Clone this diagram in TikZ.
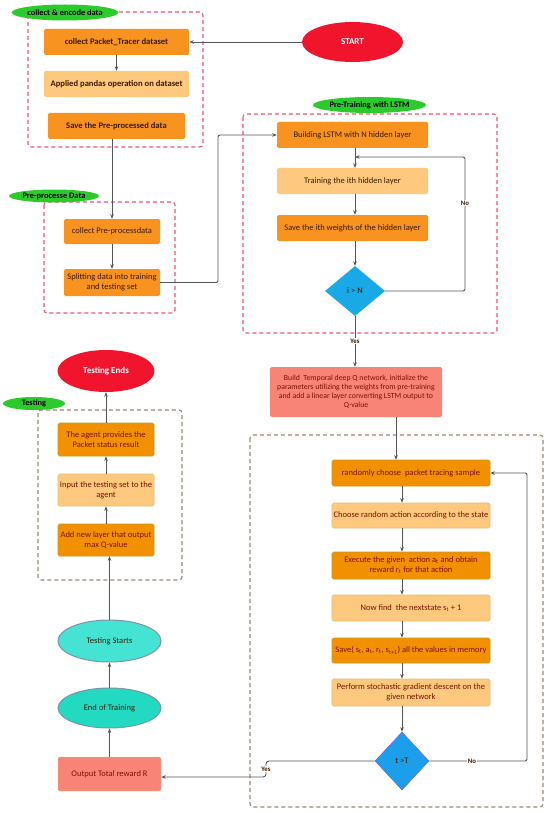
\documentclass[tikz,border=0pt]{standalone}
\usepackage{fontspec}
\setmainfont{Carlito}
\usetikzlibrary{shapes.geometric,arrows.meta}
\definecolor{orng}{HTML}{F7931E}
\definecolor{orng2}{HTML}{F39000}
\definecolor{olive2}{HTML}{B8A020}
\definecolor{lorng}{HTML}{FEC97E}
\definecolor{lborder}{HTML}{E0C070}
\definecolor{grn}{HTML}{2BCB2B}
\definecolor{redE}{HTML}{F0142D}
\definecolor{dred}{HTML}{EE5577}
\definecolor{dgrey}{HTML}{9A8A7A}
\definecolor{salm}{HTML}{F88478}
\definecolor{teal1}{HTML}{22D9C2}
\definecolor{teal2}{HTML}{45E3D3}
\definecolor{slate}{HTML}{7E93A8}
\definecolor{blue1}{HTML}{18A9E6}
\definecolor{blue2}{HTML}{1B9FEA}
\definecolor{purp}{HTML}{7A66E0}
\definecolor{lnc}{HTML}{555555}
\definecolor{txt}{HTML}{3A1A00}
\definecolor{txtr}{HTML}{7A1200}
\tikzset{
  base/.style={rectangle, rounded corners=1.5pt, align=center, inner sep=1pt,
    font=\fontsize{8.5}{10}\selectfont, text=txt},
  bfont/.style={font=\bfseries\fontsize{8.6}{10}\selectfont},
  obox/.style={base, fill=orng},
  lbox/.style={base, fill=lorng},
  obox2/.style={base, fill=orng2, draw=olive2, line width=0.6pt, text=txtr},
  lbox2/.style={base, fill=lorng, draw=lborder, line width=0.6pt, text=txtr},
  glabel/.style={ellipse, fill=grn, inner sep=0pt, font=\bfseries\fontsize{8.4}{10}\selectfont},
  rellip/.style={ellipse, fill=redE, text=white, inner sep=0pt, font=\bfseries\fontsize{9}{11}\selectfont},
  dbox/.style={draw=dred, line width=1.1pt, dash pattern=on 4pt off 3pt, rounded corners=3pt},
  gbox/.style={draw=dgrey, line width=1.1pt, dash pattern=on 4pt off 3pt, rounded corners=3pt},
  conn/.style={draw=lnc, line width=0.9pt},
  arr/.style={conn, -{Stealth[length=4.5pt,width=3.5pt]}},
  lab/.style={fill=white, inner sep=0.5pt, font=\bfseries\fontsize{6.8}{8}\selectfont, text=txt},
}
\begin{document}
\begin{tikzpicture}[x=1pt,y=-1pt]
\useasboundingbox (0,0) rectangle (550,813);
\fill[white] (0,0) rectangle (550,813);

% dashed groups
\draw[dbox] (28,12) rectangle (203,147);
\draw[dbox] (44,202) rectangle (175,313);
\draw[dbox] (243,114) rectangle (497,333);
\draw[gbox] (250,435) rectangle (543,807);
\draw[gbox] (38,410) rectangle (182,580);

% group labels
\node[glabel, minimum width=96pt, minimum height=16pt] (lab1) at (65,12.5) {collect \& encode data};
\node[glabel, minimum width=90pt, minimum height=13pt] (lab2) at (54,196) {Pre-processe Data};
\node[glabel, minimum width=103pt, minimum height=16pt] (lab3) at (369.5,105) {Pre-Training with LSTM};
\node[glabel, minimum width=62pt, minimum height=13pt] (lab4) at (34,403.5) {Testing};

% collect & encode
\node[obox, bfont, minimum width=145pt, minimum height=26pt] (cpt) at (116.5,42) {collect Packet\_Tracer dataset};
\node[lbox, bfont, minimum width=145pt, minimum height=26pt] (apd) at (116.5,84) {Applied pandas operation on dataset};
\node[obox, bfont, minimum width=137pt, minimum height=26pt] (spp) at (116.5,126) {Save the Pre-processed data};
\node[rellip, minimum width=101pt, minimum height=40pt] (start) at (352.5,42) {START};

% pre-process
\node[obox, minimum width=96pt, minimum height=25pt] (cpd) at (112,231.5) {collect Pre-processdata};
\node[obox, minimum width=96pt, minimum height=27pt] (spl) at (112,282.5) {Splitting data into training\\and testing set};

% pre-training
\node[obox, minimum width=151pt, minimum height=26pt] (bld) at (352.5,135) {Building LSTM with N hidden layer};
\node[lbox, minimum width=151pt, minimum height=26pt] (trn) at (352.5,181) {Training the ith hidden layer};
\node[obox, minimum width=151pt, minimum height=26pt] (sav) at (352.5,228) {Save the ith weights of the hidden layer};
\node[diamond, fill=blue1, minimum width=60pt, minimum height=50pt, inner sep=0pt, font=\fontsize{8.5}{10}\selectfont, text=txt] (d1) at (355,291) {i > N};
\coordinate (n1a) at (465,291);
\coordinate (n1b) at (465,157);
\coordinate (n1c) at (355,157);

% build temporal
\node[base, fill=salm, minimum width=172pt, minimum height=50pt, font=\fontsize{7.8}{8.9}\selectfont, text=txtr] (bt) at (356,392)
 {Build\ \ Temporal deep Q network, initialize the\\parameters utilizing the weights from pre-training\\and add a linear layer converting LSTM output to\\Q-value};

% training loop
\node[obox2, minimum width=158pt, minimum height=26pt] (r1) at (411,473) {randomly choose\ \ packet tracing sample};
\node[lbox2, minimum width=158pt, minimum height=25pt] (r2) at (411,515.5) {Choose random action according to the state};
\node[obox2, minimum width=158pt, minimum height=27pt] (r3) at (411,565.5) {Execute the given\ \ action a\textsubscript{t} and obtain\\reward r\textsubscript{t} for that action};
\node[lbox2, minimum width=158pt, minimum height=26pt] (r4) at (411,608) {Now find\ \ the nextstate s\textsubscript{t} + 1};
\node[obox2, minimum width=158pt, minimum height=25pt] (r5) at (411,650.5) {Save( s\textsubscript{t}, a\textsubscript{t}, r\textsubscript{t}, s\textsubscript{t+1}) all the values in memory};
\node[lbox2, minimum width=158pt, minimum height=27pt] (r6) at (411,692.5) {Perform stochastic gradient descent on the\\given network};
\node[diamond, fill=blue2, draw=purp, line width=0.6pt, minimum width=54pt, minimum height=58pt, inner sep=0pt, font=\fontsize{8.5}{10}\selectfont, text=txt] (d2) at (402,761) {t >T};
\coordinate (n2a) at (527,761);
\coordinate (n2b) at (527,473);
\coordinate (y2a) at (266,761);
\coordinate (y2b) at (266,777);

% bottom left
\node[base, fill=salm, draw=olive2!60, minimum width=103pt, minimum height=34pt, text=txtr] (out) at (109.5,774) {Output Total reward R};
\node[ellipse, fill=teal1, draw=slate, line width=1pt, minimum width=103pt, minimum height=40pt, inner sep=0pt, font=\fontsize{8.5}{10}\selectfont, text=txt] (eot) at (109.5,708) {End of Training};
\node[ellipse, fill=teal2, draw=slate, line width=1pt, minimum width=103pt, minimum height=42pt, inner sep=0pt, font=\fontsize{8.5}{10}\selectfont, text=txt] (ts) at (109.5,641) {Testing Starts};

% testing
\node[rellip, minimum width=97pt, minimum height=42pt] (te) at (106,371) {Testing Ends};
\node[obox2, minimum width=96pt, minimum height=33pt] (ag) at (106,439.5) {The agent provides the\\Packet status result};
\node[lbox2, minimum width=96pt, minimum height=32pt] (inp) at (106,490) {Input the testing set to the\\agent};
\node[obox2, minimum width=96pt, minimum height=32pt] (add) at (106,540) {Add new layer that output\\max Q-value};

% connectors
\draw[arr] (start.west) -- (cpt.east);
\draw[arr] (cpt.south) -- (apd.north);
\draw[arr] (spp.south -| cpd.north) -- (cpd.north);
\draw[arr] (cpd.south) -- (spl.north);
\coordinate (j1) at (218,135);
\draw[arr, rounded corners=2pt] (spl.east) -| (j1) -- (bld.west);
\draw[arr] (bld.south -| d1.north) -- (trn.north -| d1.north);
\draw[arr] (trn.south -| d1.north) -- (sav.north -| d1.north);
\draw[arr] (sav.south -| d1.north) -- (d1.north);
\draw[arr, rounded corners=2pt] (d1.east) -- (n1a) -- (n1b) -- (n1c);
\node[lab] (no1) at (465,203) {No};
\draw[arr] (d1.south) -- (d1.south |- bt.north);
\node[lab] (yes1) at (355,341) {Yes};
\draw[arr] (bt.south -| 396,0) -- (r1.north -| 396,0);
\draw[arr] (r1.south -| d2.north) -- (r2.north -| d2.north);
\draw[arr] (r2.south -| d2.north) -- (r3.north -| d2.north);
\draw[arr] (r3.south -| d2.north) -- (r4.north -| d2.north);
\draw[arr] (r4.south -| d2.north) -- (r5.north -| d2.north);
\draw[arr] (r5.south -| d2.north) -- (r6.north -| d2.north);
\draw[arr] (r6.south -| d2.north) -- (d2.north);
\draw[arr, rounded corners=2pt] (d2.east) -- (n2a) -- (n2b) -- (r1.east);
\node[lab] (no2) at (472,761) {No};
\draw[arr, rounded corners=3pt] (d2.west) -- (y2a) -- (y2b) -- (out.east |- y2b);
\node[lab] (yes2) at (266,769) {Yes};
\draw[arr] (out.north) -- (eot.south);
\draw[arr] (eot.north) -- (ts.south);
\draw[arr] (ts.north) -- (ts.north |- add.south);
\draw[arr] (add.north -| te.south) -- (inp.south -| te.south);
\draw[arr] (inp.north -| te.south) -- (ag.south -| te.south);
\draw[arr] (ag.north -| te.south) -- (te.south);
\end{tikzpicture}
\end{document}
